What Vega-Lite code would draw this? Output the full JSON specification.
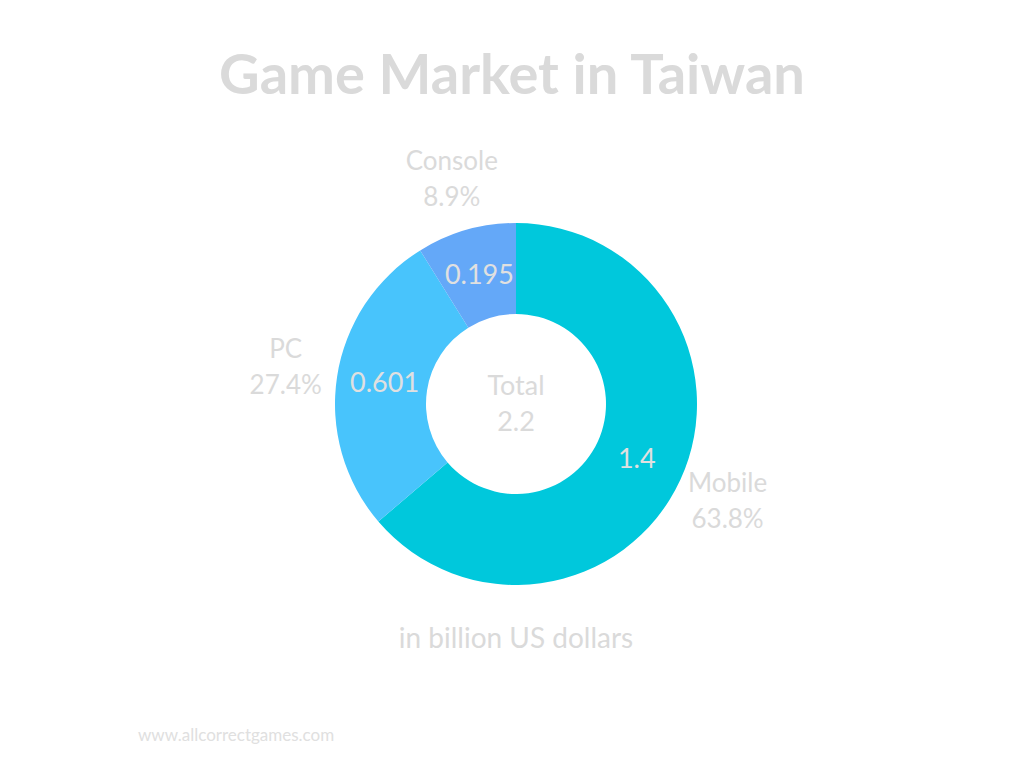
{
  "$schema": "https://vega.github.io/schema/vega-lite/v6.json",
  "width": 1016,
  "height": 728,
  "autosize": {"type": "none"},
  "padding": {"left": 8, "top": 40, "right": 0, "bottom": 0},
  "background": "white",
  "config": {"view": {"stroke": null}, "font": "Lato"},
  "title": {
    "text": "Game Market in Taiwan",
    "font": "Lato",
    "fontSize": 56,
    "fontWeight": "bold",
    "color": "#dadada",
    "frame": "group",
    "anchor": "middle",
    "offset": -66,
    "dx": -4
  },
  "datasets": {
    "market": [
      {"category": "Mobile", "value": 1.4, "order": 1, "label": "Mobile\n63.8%", "shown": "1.4"},
      {"category": "PC", "value": 0.601, "order": 2, "label": "PC\n27.4%", "shown": "0.601"},
      {"category": "Console", "value": 0.195, "order": 3, "label": "Console\n8.9%", "shown": "0.195"}
    ],
    "center": [{"t": "Total\n2.2"}],
    "caption": [{"t": "in billion US dollars"}],
    "site": [{"t": "www.allcorrectgames.com"}]
  },
  "layer": [
    {
      "data": {"name": "market"},
      "mark": {"type": "arc", "outerRadius": 181, "innerRadius": 90},
      "encoding": {
        "theta": {"field": "value", "type": "quantitative", "stack": true},
        "order": {"field": "order", "type": "quantitative"},
        "color": {
          "field": "category",
          "type": "nominal",
          "scale": {"domain": ["Mobile", "PC", "Console"], "range": ["#00c8dc", "#48c4fc", "#64a8f8"]},
          "legend": null
        }
      }
    },
    {
      "data": {"name": "market"},
      "mark": {"type": "text", "radius": 133, "fontSize": 27, "color": "#e0e0e0", "font": "Lato"},
      "encoding": {
        "theta": {"field": "value", "type": "quantitative", "stack": true},
        "order": {"field": "order", "type": "quantitative"},
        "detail": {"field": "category", "type": "nominal"},
        "text": {"field": "shown", "type": "nominal"}
      }
    },
    {
      "data": {"name": "market"},
      "mark": {"type": "text", "radius": 233, "dy": -18, "fontSize": 26, "color": "#dadada", "font": "Lato", "lineBreak": "\n", "lineHeight": 36},
      "encoding": {
        "theta": {"field": "value", "type": "quantitative", "stack": true},
        "order": {"field": "order", "type": "quantitative"},
        "detail": {"field": "category", "type": "nominal"},
        "text": {"field": "label", "type": "nominal"}
      }
    },
    {
      "data": {"name": "center"},
      "mark": {"type": "text", "dy": -17, "fontSize": 27, "color": "#dadada", "font": "Lato", "lineBreak": "\n", "lineHeight": 36},
      "encoding": {"text": {"field": "t", "type": "nominal"}}
    },
    {
      "data": {"name": "caption"},
      "mark": {"type": "text", "fontSize": 28, "color": "#dadada", "font": "Lato", "dy": 236},
      "encoding": {"text": {"field": "t", "type": "nominal"}}
    },
    {
      "data": {"name": "site"},
      "mark": {"type": "text", "fontSize": 17, "color": "#e0e0e0", "font": "Lato", "align": "left", "dx": -378, "dy": 332},
      "encoding": {"text": {"field": "t", "type": "nominal"}}
    }
  ]
}
